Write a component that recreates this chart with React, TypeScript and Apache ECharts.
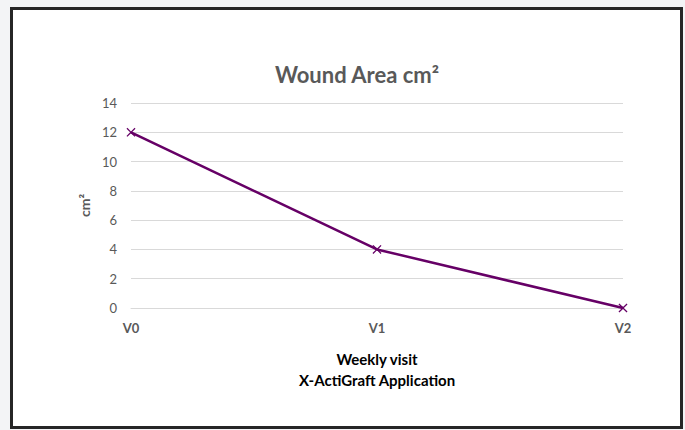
import React, { useEffect, useRef } from "react";
import * as echarts from "echarts";

const categories = ["V0", "V1", "V2"];
const woundArea = [12, 4, 0];
const yTicks = { min: 0, max: 14, interval: 2 };

const FONT = "Lato, 'Open Sans', sans-serif";

export default function App() {
  const ref = useRef<HTMLDivElement>(null);
  useEffect(() => {
    if (!ref.current) return;
    const chart = echarts.init(ref.current, null, { renderer: "svg" });
    chart.setOption({
      animation: false,
      backgroundColor: "#f3f4f6",
      graphic: [
        {
          type: "rect",
          shape: { x: 11.5, y: 8.5, width: 670, height: 419 },
          style: { fill: "#ffffff", stroke: "#262626", lineWidth: 3 },
          z: -10,
        },
      ],
      title: {
        text: "Wound Area cm²",
        left: 352,
        top: 58,
        textAlign: "center",
        textStyle: { fontFamily: FONT, fontSize: 22, fontWeight: "bold", color: "#595959" },
      },
      grid: { left: 131, right: 62, top: 103, bottom: 122 },
      xAxis: {
        type: "category",
        data: categories,
        boundaryGap: false,
        axisLine: { lineStyle: { color: "#d9d9d9", width: 1 } },
        axisTick: { show: false },
        axisLabel: { fontFamily: FONT, fontSize: 13, fontWeight: "bold", color: "#595959", margin: 13 },
        name: "Weekly visit\nX-ActiGraft Application",
        nameLocation: "middle",
        nameGap: 40,
        nameTextStyle: { fontFamily: FONT, fontSize: 15, fontWeight: "bold", color: "#000000", lineHeight: 21 },
      },
      yAxis: {
        type: "value",
        min: yTicks.min,
        max: yTicks.max,
        interval: yTicks.interval,
        axisLine: { show: false },
        axisTick: { show: false },
        splitLine: { lineStyle: { color: "#d9d9d9", width: 1 } },
        axisLabel: { fontFamily: FONT, fontSize: 13, color: "#595959", margin: 14 },
        name: "cm²",
        nameLocation: "middle",
        nameGap: 38,
        nameRotate: 90,
        nameTextStyle: { fontFamily: FONT, fontSize: 14, fontWeight: "bold", color: "#595959" },
      },
      series: [
        {
          type: "line",
          data: woundArea,
          symbol: "path://M0,1L1,0L5,4L9,0L10,1L6,5L10,9L9,10L5,6L1,10L0,9L4,5Z",
          symbolSize: 9,
          lineStyle: { color: "#660066", width: 2.5 },
          itemStyle: { color: "#660066" },
        },
      ],
    });
    return () => chart.dispose();
  }, []);
  return (
    <div
      ref={ref}
      style={{ position: "absolute", left: 0, top: 0, width: 685, height: 430 }}
    />
  );
}
